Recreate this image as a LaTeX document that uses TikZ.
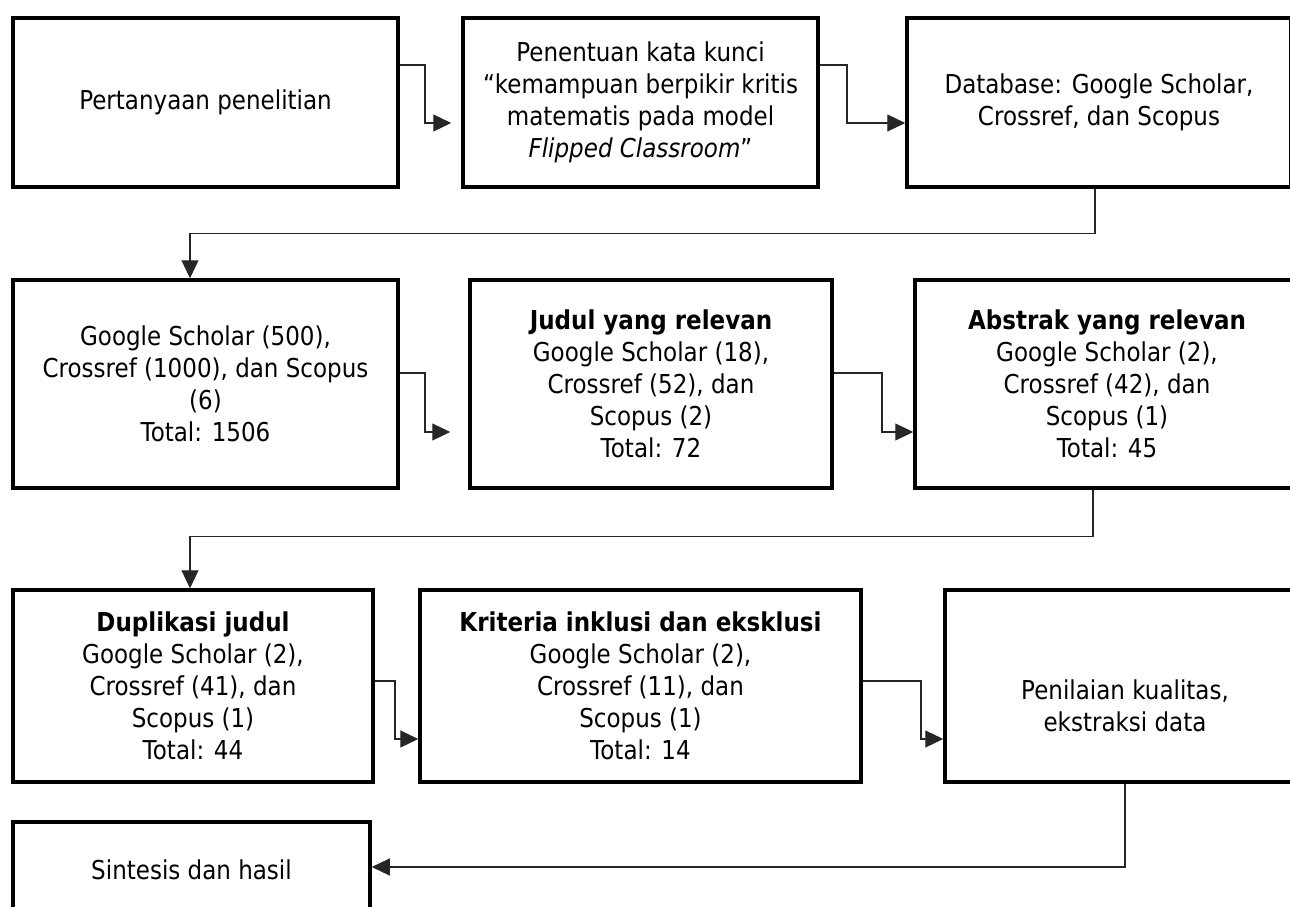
\documentclass[tikz,border=0pt]{standalone}
\usepackage{fontspec}
\setmainfont{DejaVu Sans}[FakeStretch=0.885]
\usetikzlibrary{arrows.meta}
\tikzset{
  box/.style={draw=black, line width=3.5pt, rectangle, align=center, inner sep=0pt,
    font=\fontsize{26pt}{32pt}\selectfont},
  conn/.style={draw=black!85, line width=1.1pt, -{Triangle[length=18pt,width=17pt]}},
}
\begin{document}
\begin{tikzpicture}[x=1pt,y=-1pt]
\useasboundingbox (0,0) rectangle (1290,907);
\clip (0,0) rectangle (1290,907);
% row 1
\node[box, minimum width=385pt, minimum height=169pt] (b1) at (205.5,102.5) {Pertanyaan penelitian};
\node[box, minimum width=355pt, minimum height=169pt] (b2) at (640.5,102.5) {Penentuan kata kunci\\“kemampuan berpikir kritis\\matematis pada model\\\textit{Flipped Classroom}”};
\node[box, minimum width=384pt, minimum height=169pt] (b3) at (1099,102.5) {Database: Google Scholar,\\Crossref, dan Scopus};
% row 2
\node[box, minimum width=385pt, minimum height=208pt] (b4) at (205.5,384) {Google Scholar (500),\\Crossref (1000), dan Scopus\\(6)\\Total: 1506};
\node[box, minimum width=362pt, minimum height=208pt] (b5) at (651,384) {\textbf{Judul yang relevan}\\Google Scholar (18),\\Crossref (52), dan\\Scopus (2)\\Total: 72};
\node[box, minimum width=384pt, minimum height=208pt] (b6) at (1107,384) {\textbf{Abstrak yang relevan}\\Google Scholar (2),\\Crossref (42), dan\\Scopus (1)\\Total: 45};
% row 3
\node[box, minimum width=360pt, minimum height=192pt] (b7) at (193,686) {\textbf{Duplikasi judul}\\Google Scholar (2),\\Crossref (41), dan\\Scopus (1)\\Total: 44};
\node[box, minimum width=441pt, minimum height=192pt] (b8) at (640.5,686) {\textbf{Kriteria inklusi dan eksklusi}\\Google Scholar (2),\\Crossref (11), dan\\Scopus (1)\\Total: 14};
\node[box, minimum width=360pt, minimum height=192pt,
  label={[font=\fontsize{26pt}{32pt}\selectfont, align=center, yshift=-20pt]center:Penilaian kualitas,\\ekstraksi data}] (b9) at (1125,686) {};
% row 4
\node[box, minimum width=357pt, minimum height=96pt] (b10) at (191.5,870) {Sintesis dan hasil};
% connectors
\draw[conn, shorten >=10pt] ([yshift=37.5pt]b1.east) -| (425,123) -- ([yshift=-20.5pt]b2.west);
\draw[conn] ([yshift=37.5pt]b2.east) -| (847,123) -- ([yshift=-20.5pt]b3.west);
\draw[conn] ([xshift=-4pt]b3.south) -- ++(0,45) -| ([xshift=-15.5pt]b4.north);
\draw[conn, shorten >=18pt] ([yshift=11pt]b4.east) -| (425,432) -- ([yshift=-48pt]b5.west);
\draw[conn] ([yshift=11pt]b5.east) -| (882,432) -- ([yshift=-48pt]b6.west);
\draw[conn] ([xshift=-14pt]b6.south) -- ++(0,47) -| ([xshift=-3pt]b7.north);
\draw[conn] ([yshift=5pt]b7.east) -| (395,739) -- ([yshift=-53pt]b8.west);
\draw[conn] ([yshift=5pt]b8.east) -| (921,739) -- ([yshift=-53pt]b9.west);
\draw[conn] (b9.south) |- ([yshift=3pt]b10.east);
\end{tikzpicture}
\end{document}
